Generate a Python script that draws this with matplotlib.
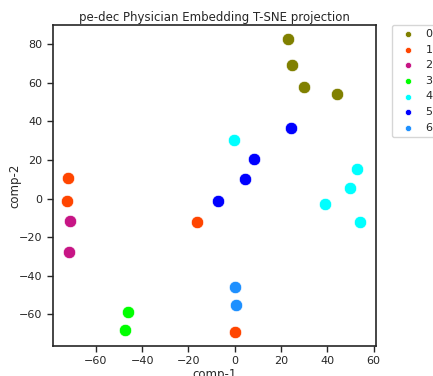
import matplotlib
matplotlib.use('Agg')
import matplotlib.pyplot as plt
import seaborn as sns

sns.set_style('ticks')

# cluster labels and colours
labels = ['0', '1', '2', '3', '4', '5', '6']
colors = ['olive', 'orangered', 'mediumvioletred', 'lime', 'cyan', 'blue', 'dodgerblue']

# t-SNE coordinates, one list per cluster
comp1 = [
    [22.9, 24.9, 29.9, 44.0],
    [-72.2, -72.5, -16.5, 0.3],
    [-71.2, -71.4],
    [-45.9, -47.5],
    [-0.4, 52.8, 49.9, 39.0, 54.2],
    [24.5, 8.5, 4.5, -7.0],
    [0.0, 0.7],
]
comp2 = [
    [82.4, 69.1, 58.0, 54.2],
    [10.9, -1.0, -12.1, -69.1],
    [-11.7, -27.5],
    [-58.5, -67.9],
    [30.6, 15.5, 5.4, -2.6, -12.1],
    [36.6, 20.7, 10.0, -1.3],
    [-45.6, -55.2],
]

fig = plt.figure(figsize=(4.33, 3.76), dpi=100)
ax = fig.add_axes([0.122, 0.080, 0.746, 0.854])

for lab, col, xs, ys in zip(labels, colors, comp1, comp2):
    ax.scatter(xs, ys, s=80, color=col, label=lab, edgecolors='white', linewidths=0.5)

ax.set_xlim(-78.6, 61)
ax.set_ylim(-76.3, 90)
ax.set_xticks([-60, -40, -20, 0, 20, 40, 60])
ax.set_yticks([-60, -40, -20, 0, 20, 40, 60, 80])
ax.tick_params(labelsize=8, length=4, width=1)
for sp in ax.spines.values():
    sp.set_linewidth(1.2)
ax.set_xlabel('comp-1', fontsize=8.5, labelpad=1)
ax.set_ylabel('comp-2', fontsize=8.5, labelpad=-2)
ax.set_title('pe-dec Physician Embedding T-SNE projection', fontsize=8.5, pad=3)

ax.legend(bbox_to_anchor=(1.05, 1), loc='upper left', fontsize=8, markerscale=0.5,
          frameon=True, borderaxespad=0, handletextpad=0.6)

fig.savefig('out.png', dpi=100)
